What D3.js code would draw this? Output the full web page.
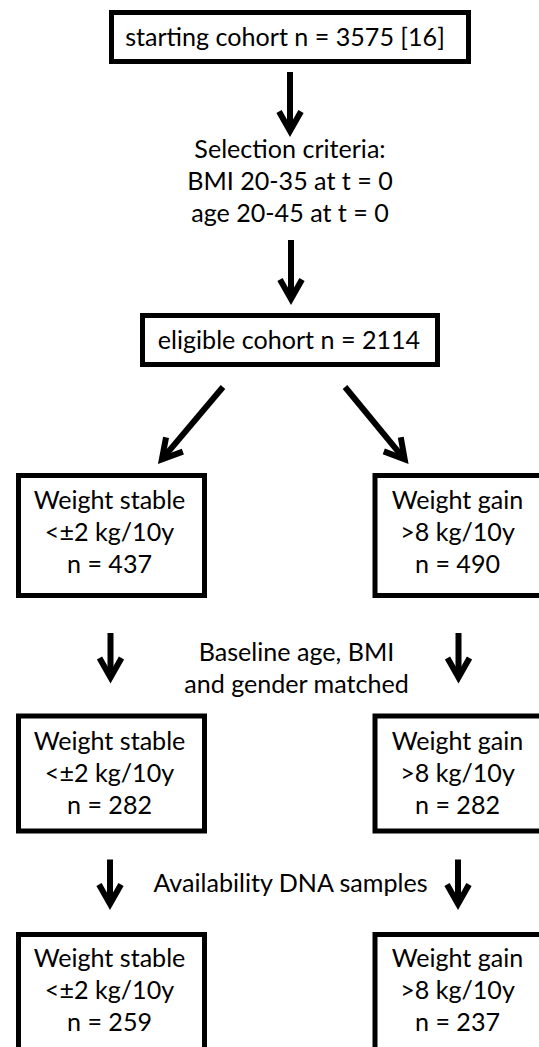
<!DOCTYPE html>
<html>
<head>
<meta charset="utf-8">
<script src="https://cdn.jsdelivr.net/npm/d3@7"></script>
<style>
  body { margin: 0; background: #fff; overflow: hidden; }
  svg text { font-family: Lato, sans-serif; font-size: 25.1px; fill: #000; }
</style>
</head>
<body>
<div id="chart"></div>
<script>
// flowchart content
const startLabel = ["starting cohort n = 3575 [16]"];
const eligibleLabel = ["eligible cohort n = 2114"];
const groupNames = ["Weight stable", "Weight gain"];
const groupCriteria = ["<±2 kg/10y", ">8 kg/10y"];
const stageCounts = [[437, 490], [282, 282], [259, 237]];
const selectionText = ["Selection criteria:", "BMI 20-35 at t = 0", "age 20-45 at t = 0"];
const matchText = ["Baseline age, BMI", "and gender matched"];
const dnaText = ["Availability DNA samples"];

const width = 539, height = 1047;
const lineStep = 32;
const boxStroke = 5;
const shaftWidth = 6;

// layout scales
const rows = ["start", "eligible", "stage0", "stage1", "stage2"];
const rowTop = d3.scaleOrdinal().domain(rows).range([10, 313, 473, 713.5, 932]);
const rowHeight = d3.scaleOrdinal().domain(rows).range([54, 54, 125, 120, 120]);
const firstBaseline = d3.scaleOrdinal().domain(rows).range([36, 35.5, 35.5, 36.5, 35]);

const cols = ["start", "eligible", "stable", "gain"];
const colLeft = d3.scaleOrdinal().domain(cols).range([109, 140, 16, 372.5]);
const colWidth = d3.scaleOrdinal().domain(cols).range([362, 300, 191, 191]);
const colText = d3.scaleOrdinal().domain(cols).range([285, 289, 109.5, 457.5]);
const groupCols = ["stable", "gain"];

// boxes
const boxes = [
    {row: "start", col: "start", lines: startLabel},
    {row: "eligible", col: "eligible", lines: eligibleLabel}
];
stageCounts.forEach(function(counts, i) {
    counts.forEach(function(n, j) {
        boxes.push({
            row: "stage" + i,
            col: groupCols[j],
            lines: [groupNames[j], groupCriteria[j], "n = " + n]
        });
    });
});

// free text between steps
const notes = [
    {lines: selectionText, x: 290, y: 158},
    {lines: matchText, x: 296.5, y: 660.5},
    {lines: dnaText, x: 290.5, y: 891.5}
];

function bottom(r) { return rowTop(r) + rowHeight(r); }

// arrows, anchored to the boxes
const arrows = [
    {from: [290, bottom("start") + 8], to: [290, notes[0].y - 21]},
    {from: [291, notes[0].y + 2 * lineStep + 18], to: [291, rowTop("eligible") - 8]},
    {from: [223, bottom("eligible") + 20], to: [158, rowTop("stage0") - 9]},
    {from: [345, bottom("eligible") + 20], to: [408.5, rowTop("stage0") - 9]}
];
groupCols.forEach(function(c) {
    arrows.push({from: [colText(c) + 1, bottom("stage0") + 35], to: [colText(c) + 1, rowTop("stage1") - 30]});
    arrows.push({from: [colText(c) + 0.5, bottom("stage1") + 26], to: [colText(c) + 0.5, rowTop("stage2") - 22]});
});

const svg = d3.select("#chart").append("svg")
    .attr("width", width)
    .attr("height", height);

const box = svg.append("g").selectAll("g")
    .data(boxes)
    .enter().append("g");

box.append("rect")
    .attr("x", function(d) { return colLeft(d.col) + boxStroke / 2; })
    .attr("y", function(d) { return rowTop(d.row) + boxStroke / 2; })
    .attr("width", function(d) { return colWidth(d.col) - boxStroke; })
    .attr("height", function(d) { return rowHeight(d.row) - boxStroke; })
    .attr("fill", "#fff")
    .attr("stroke", "#000")
    .attr("stroke-width", boxStroke);

box.selectAll("text")
    .data(function(d) {
        return d.lines.map(function(t, i) {
            return {t: t, x: colText(d.col), y: rowTop(d.row) + firstBaseline(d.row) + i * lineStep};
        });
    })
    .enter().append("text")
    .attr("x", function(d) { return d.x; })
    .attr("y", function(d) { return d.y; })
    .attr("text-anchor", "middle")
    .text(function(d) { return d.t; });

svg.append("g").selectAll("text")
    .data(notes.flatMap(function(n) {
        return n.lines.map(function(t, i) { return {t: t, x: n.x, y: n.y + i * lineStep}; });
    }))
    .enter().append("text")
    .attr("x", function(d) { return d.x; })
    .attr("y", function(d) { return d.y; })
    .attr("text-anchor", "middle")
    .text(function(d) { return d.t; });

// arrows: shaft plus thick chevron head
const arrow = svg.append("g").selectAll("g")
    .data(arrows)
    .enter().append("g");

arrow.append("line")
    .attr("x1", function(d) { return d.from[0]; })
    .attr("y1", function(d) { return d.from[1]; })
    .attr("x2", function(d) {
        const dx = d.to[0] - d.from[0], dy = d.to[1] - d.from[1], len = Math.hypot(dx, dy);
        return d.to[0] - dx / len * 9;
    })
    .attr("y2", function(d) {
        const dx = d.to[0] - d.from[0], dy = d.to[1] - d.from[1], len = Math.hypot(dx, dy);
        return d.to[1] - dy / len * 9;
    })
    .attr("stroke", "#000")
    .attr("stroke-width", shaftWidth);

arrow.append("polyline")
    .attr("points", "-11,-25.5 0,-6 11,-25.5")
    .attr("transform", function(d) {
        const angle = Math.atan2(d.to[1] - d.from[1], d.to[0] - d.from[0]) * 180 / Math.PI - 90;
        return "translate(" + d.to[0] + "," + d.to[1] + ") rotate(" + angle + ")";
    })
    .attr("fill", "none")
    .attr("stroke", "#000")
    .attr("stroke-width", shaftWidth)
    .attr("stroke-linejoin", "miter")
    .attr("stroke-miterlimit", 10);
</script>
</body>
</html>
